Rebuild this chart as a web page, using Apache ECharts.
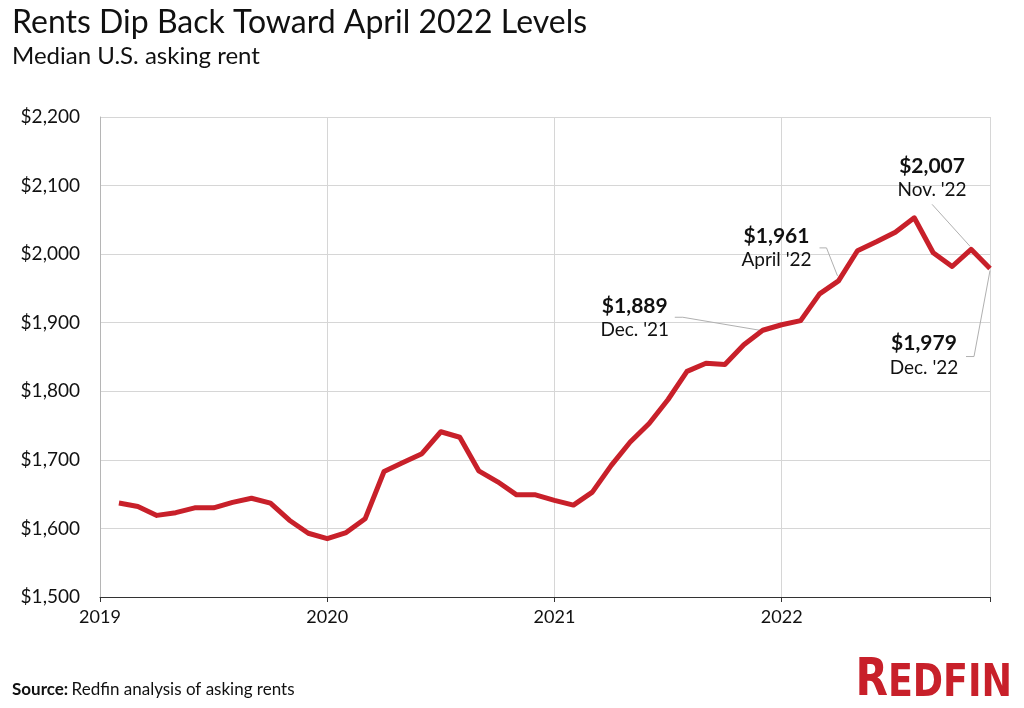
<!DOCTYPE html>
<html>
<head>
<meta charset="utf-8">
<script src="https://cdn.jsdelivr.net/npm/echarts@6/dist/echarts.min.js"></script>
<style>
  html, body { margin: 0; padding: 0; background: #fff; }
  #main { width: 1024px; height: 708px; }
</style>
</head>
<body>
<div id="main"></div>
<script>
// x = months since Jan 2019, first reading is Feb 2019
const years = ['2019', '2020', '2021', '2022'];
const months = [];
for (let m = 1; m <= 47; m++) months.push(m);
const rent = [
  1637, 1632, 1619, 1623, 1630, 1630, 1638, 1644, 1637, 1612, 1593,
  1585, 1594, 1614, 1683, 1696, 1709, 1741, 1733, 1684, 1668, 1649, 1649,
  1641, 1634, 1653, 1692, 1726, 1753, 1788, 1829, 1841, 1839, 1868, 1889,
  1897, 1903, 1942, 1961, 2005, 2018, 2032, 2053, 2002, 1982, 2007, 1979
];
// callouts
const calloutMonth = [35, 39, 46, 47];
const calloutValue = ['$1,889', '$1,961', '$2,007', '$1,979'];
const calloutDate = ["Dec. '21", "April '22", "Nov. '22", "Dec. '22"];

const FONT = 'Lato, "Noto Sans", sans-serif';
const LOGO_FONT = '"Liberation Sans Narrow", "DejaVu Sans Condensed", sans-serif';
const RED = '#c8202a';

let myChart = echarts.init(document.getElementById('main'));

let option = {
  animation: false,
  backgroundColor: '#fff',
  grid: { left: 100, right: 34, top: 117, bottom: 111 },
  xAxis: {
    type: 'value',
    min: 0,
    max: 47,
    interval: 12,
    axisLine: { show: true, lineStyle: { color: '#333', width: 1 } },
    axisTick: { show: true, length: 5, lineStyle: { color: '#333' } },
    splitLine: { show: true, lineStyle: { color: '#d6d6d6', width: 1 } },
    axisLabel: {
      margin: 11,
      color: '#111',
      fontFamily: FONT,
      fontSize: 18,
      formatter: function (v) {
        return v % 12 === 0 ? years[v / 12] : '';
      }
    }
  },
  yAxis: {
    type: 'value',
    min: 1500,
    max: 2200,
    interval: 100,
    axisLine: { show: true, lineStyle: { color: '#b5b5b5', width: 1 } },
    axisTick: { show: false },
    splitLine: { show: true, lineStyle: { color: '#d6d6d6', width: 1 } },
    axisLabel: {
      margin: 20,
      color: '#111',
      fontFamily: FONT,
      fontSize: 19,
      formatter: function (v) {
        return '$' + v.toLocaleString('en-US');
      }
    }
  },
  series: [{
    type: 'line',
    data: months.map((m, i) => [m, rent[i]]),
    symbol: 'none',
    lineStyle: { color: RED, width: 5, join: 'round' },
    z: 5
  }],
  graphic: [
    {
      type: 'text', left: 12, top: 7,
      style: { text: 'Rents Dip Back Toward April 2022 Levels', font: '400 32px ' + FONT, fill: '#111' }
    },
    {
      type: 'text', left: 12, top: 44,
      style: { text: 'Median U.S. asking rent', font: '400 24px ' + FONT, fill: '#111' }
    },
    {
      type: 'text', left: 12, top: 681,
      style: {
        text: '{b|Source:} {n|Redfin analysis of asking rents}',
        rich: {
          b: { fontFamily: FONT, fontWeight: 'bold', fontSize: 17, fill: '#111' },
          n: { fontFamily: FONT, fontSize: 17, fill: '#111' }
        }
      }
    },
    {
      type: 'text', x: 1012, y: 707, scaleX: 0.9,
      style: {
        text: '{r|R}{e|EDFIN}',
        align: 'right',
        verticalAlign: 'bottom',
        rich: {
          r: { fontFamily: LOGO_FONT, fontWeight: 'bold', fontSize: 52, fill: RED, verticalAlign: 'bottom' },
          e: { fontFamily: LOGO_FONT, fontWeight: 'bold', fontSize: 45, fill: RED, verticalAlign: 'bottom' }
        }
      }
    }
  ]
};
myChart.setOption(option);

// label block offset and leader line (relative to the data point)
const labelOffset = [[-128, -12], [-62, -33], [-39, -71], [-66, 87]];
const leader = [
  [[-88, -13], [-80, -13], [-3, 0]],
  [[-19, -33], [-12, -33], [-1, -5]],
  [[-39, -45], [-1, -3]],
  [[-24, 88], [-16, 88], [0, 2]]
];

let extra = [];
calloutMonth.forEach((m, k) => {
  let p = myChart.convertToPixel({ gridIndex: 0 }, [m, rent[m - 1]]);
  let cx = p[0] + labelOffset[k][0];
  let cy = p[1] + labelOffset[k][1];
  extra.push({
    type: 'text', x: cx, y: cy - 12, z: 10,
    style: { text: calloutValue[k], font: 'bold 21px ' + FONT, fill: '#111', align: 'center', verticalAlign: 'middle' }
  });
  extra.push({
    type: 'text', x: cx, y: cy + 12, z: 10,
    style: { text: calloutDate[k], font: '400 19px ' + FONT, fill: '#111', align: 'center', verticalAlign: 'middle' }
  });
  extra.push({
    type: 'polyline', z: 4,
    shape: { points: leader[k].map(d => [p[0] + d[0], p[1] + d[1]]) },
    style: { stroke: '#b0b0b0', lineWidth: 1, fill: null }
  });
});
myChart.setOption({ graphic: option.graphic.concat(extra) });
</script>
</body>
</html>
